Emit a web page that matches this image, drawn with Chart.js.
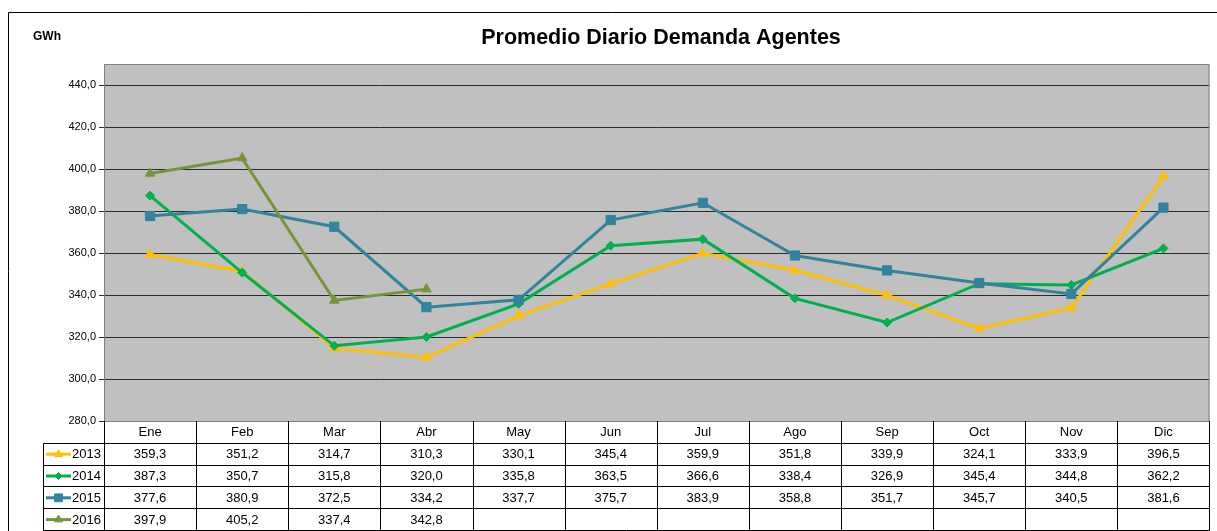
<!DOCTYPE html>
<html>
<head>
<meta charset="utf-8">
<script src="https://cdn.jsdelivr.net/npm/chart.js@4"></script>
<style>
  html, body { margin: 0; padding: 0; background: #fff; }
  #wrap { width: 1217px; height: 531px; position: relative; }
</style>
</head>
<body>
<div id="wrap"><canvas id="chart" width="1217" height="531"></canvas></div>
<script>
const months = ["Ene", "Feb", "Mar", "Abr", "May", "Jun", "Jul", "Ago", "Sep", "Oct", "Nov", "Dic"];
const years = ["2013", "2014", "2015", "2016"];
const d2013 = [359.3, 351.2, 314.7, 310.3, 330.1, 345.4, 359.9, 351.8, 339.9, 324.1, 333.9, 396.5];
const d2014 = [387.3, 350.7, 315.8, 320.0, 335.8, 363.5, 366.6, 338.4, 326.9, 345.4, 344.8, 362.2];
const d2015 = [377.6, 380.9, 372.5, 334.2, 337.7, 375.7, 383.9, 358.8, 351.7, 345.7, 340.5, 381.6];
const d2016 = [397.9, 405.2, 337.4, 342.8];
const yTicks = [280, 300, 320, 340, 360, 380, 400, 420, 440];

const colors = ["#FFC000", "#00B050", "#31849B", "#77933C"];
const shapes = ["triangle", "rectRot", "rect", "triangle"];
const radii = [5.5, 4.5, 6.5, 5.5];
const series = [d2013, d2014, d2015, d2016];

const FONT = "'Liberation Sans', Arial, sans-serif";
const fmt = v => v.toFixed(1).replace(".", ",");

const datasets = series.map((data, i) => ({
  label: years[i],
  data: data,
  borderColor: colors[i],
  backgroundColor: colors[i],
  borderWidth: 3,
  pointStyle: shapes[i],
  pointRadius: radii[i],
  pointBorderWidth: 1,
  tension: 0,
  order: 4 - i
}));

// plot background, frame, title, data table
const decor = {
  id: "decor",
  beforeDraw(chart) {
    const ctx = chart.ctx;
    const a = chart.chartArea;
    ctx.save();
    ctx.fillStyle = "#C0C0C0";
    ctx.fillRect(a.left, a.top, a.right - a.left, a.bottom - a.top);
    ctx.restore();
  },
  afterDraw(chart) {
    const ctx = chart.ctx;
    const a = chart.chartArea;
    const x = chart.scales.x;
    ctx.save();

    // plot border
    ctx.strokeStyle = "#808080";
    ctx.lineWidth = 1;
    ctx.strokeRect(a.left + 0.5, a.top + 0.5, a.right - a.left - 1, a.bottom - a.top);

    // outer frame
    ctx.strokeStyle = "#000";
    ctx.beginPath();
    ctx.moveTo(8.5, 531);
    ctx.lineTo(8.5, 12.5);
    ctx.lineTo(1217, 12.5);
    ctx.stroke();

    // title + unit
    ctx.fillStyle = "#000";
    ctx.textBaseline = "middle";
    ctx.textAlign = "center";
    ctx.font = "bold 21.5px " + FONT;
    ctx.fillText("Promedio Diario Demanda Agentes", 661, 38);
    ctx.font = "bold 12px " + FONT;
    ctx.textAlign = "left";
    ctx.fillText("GWh", 33, 37);

    // table
    const rowH = 21.8;
    const top = a.bottom;
    const legL = 43.5;
    const half = (x.getPixelForValue(1) - x.getPixelForValue(0)) / 2;
    const edges = [];
    for (let i = 0; i < months.length; i++) edges.push(Math.round(x.getPixelForValue(i) - half) + 0.5);
    edges.push(Math.round(a.right) - 0.5);

    ctx.strokeStyle = "#000";
    ctx.lineWidth = 1;
    ctx.beginPath();
    for (let r = 1; r <= 5; r++) {
      const yy = Math.round(top + r * rowH) + 0.5;
      ctx.moveTo(legL, yy);
      ctx.lineTo(edges[edges.length - 1], yy);
    }
    const bottom = Math.round(top + 5 * rowH) + 0.5;
    edges.forEach(e => { ctx.moveTo(e, top); ctx.lineTo(e, bottom); });
    ctx.moveTo(legL, Math.round(top + rowH) + 0.5);
    ctx.lineTo(legL, bottom);
    ctx.stroke();

    ctx.font = "13px " + FONT;
    ctx.textAlign = "center";
    ctx.fillStyle = "#000";
    months.forEach((m, i) => {
      ctx.fillText(m, x.getPixelForValue(i), top + rowH / 2 + 1);
    });
    series.forEach((data, s) => {
      const cy = top + (s + 1.5) * rowH + 1;
      data.forEach((v, i) => {
        ctx.fillText(fmt(v), x.getPixelForValue(i), cy);
      });
    });

    // legend keys
    series.forEach((data, s) => {
      const cy = top + (s + 1.5) * rowH + 0.5;
      ctx.strokeStyle = colors[s];
      ctx.fillStyle = colors[s];
      ctx.lineWidth = 3;
      ctx.beginPath();
      ctx.moveTo(46, cy);
      ctx.lineTo(71, cy);
      ctx.stroke();
      ctx.lineWidth = 1;
      Chart.helpers.drawPoint(ctx, {
        pointStyle: shapes[s],
        radius: radii[s] - 1,
        borderWidth: 1,
        rotation: 0
      }, 58.5, cy);
      ctx.fillStyle = "#000";
      ctx.textAlign = "left";
      ctx.fillText(years[s], 72, cy + 0.5);
    });
    ctx.restore();
  }
};

new Chart(document.getElementById("chart"), {
  type: "line",
  data: { labels: months, datasets: datasets },
  plugins: [decor],
  options: {
    responsive: false,
    animation: false,
    layout: { padding: { top: 64, right: 7, left: 0, bottom: 0 } },
    plugins: {
      legend: { display: false },
      title: { display: false },
      tooltip: { enabled: false }
    },
    scales: {
      x: {
        type: "category",
        offset: true,
        grid: { display: false },
        border: { display: false },
        ticks: { display: false },
        afterFit(scale) { scale.height = 110; }
      },
      y: {
        min: 280,
        max: 450,
        afterBuildTicks(scale) { scale.ticks = yTicks.map(v => ({ value: v })); },
        grid: { color: "#2a2a2a", lineWidth: 1, tickLength: 5, drawTicks: true },
        border: { display: false },
        ticks: {
          font: { family: FONT, size: 11 },
          color: "#000",
          padding: 3,
          callback: v => fmt(v)
        },
        afterFit(scale) { scale.width = 104; }
      }
    }
  }
});
</script>
</body>
</html>
